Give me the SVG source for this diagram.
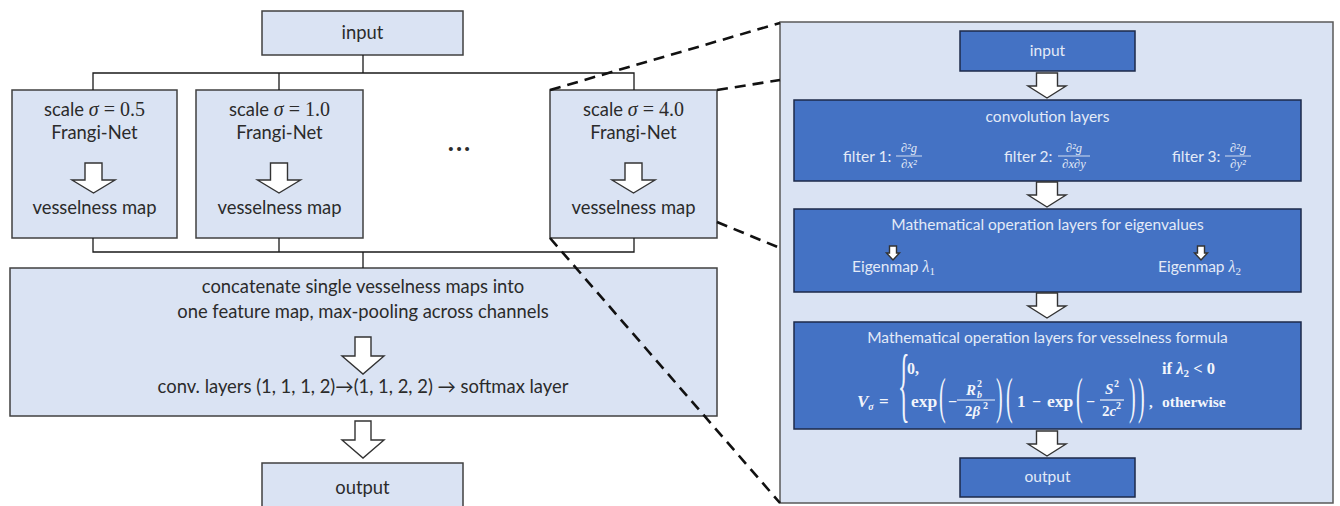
<svg xmlns="http://www.w3.org/2000/svg" width="1340" height="506" viewBox="0 0 1340 506">
<style>
.lb{fill:#dae3f3;stroke:#404040;stroke-width:1.5}
.db{fill:#4472c4;stroke:#1c2a4a;stroke-width:1.5}
.pn{fill:#dae3f3;stroke:#595959;stroke-width:1.5}
.ln{fill:none;stroke:#1a1a1a;stroke-width:1.3}
.dash{fill:none;stroke:#111;stroke-width:2.6;stroke-dasharray:11 7}
.ar{fill:#fff;stroke:#333;stroke-width:1.4}
.t{font-family:Lato,"Open Sans","Liberation Sans",sans-serif;font-size:18.4px;fill:#2b2b2b;text-anchor:middle}
.m{font-family:"Liberation Serif","DejaVu Serif",serif;font-size:20px}
.w{font-family:Lato,"Open Sans","Liberation Sans",sans-serif;font-size:15.5px;fill:#e3eaf7;text-anchor:middle}
.ws{text-anchor:start}
.wm{font-family:"Liberation Serif","DejaVu Serif",serif;font-style:italic;font-size:16px}
.f{font-family:"Liberation Serif","DejaVu Serif",serif;font-weight:bold;fill:#f2f5fb}
.fi{font-style:italic}
.fn{font-weight:normal}
.fr{font-family:"Liberation Serif","DejaVu Serif",serif;font-style:italic;fill:#e3eaf7;font-size:12.5px;text-anchor:middle}
.bar{stroke:#e3eaf7;stroke-width:0.9}
.barb{stroke:#f2f5fb;stroke-width:1.2}
</style>
<defs>
<path id="arL" d="M-8.5,0 H8.5 V17 H21.5 L0,30 L-21.5,17 H-8.5 Z"/>
<path id="arC" d="M-8,0 H8 V19 H21 L0,37 L-21,19 H-8 Z"/>
<path id="arR" d="M-10.5,0 H10.5 V13 H19 L0,25 L-19,13 H-10.5 Z"/>
<path id="arS" d="M-3.5,0 H3.5 V7 H6.5 L0,14 L-6.5,7 H-3.5 Z"/>
</defs>

<g id="input">
<rect class="lb" x="262" y="11" width="201" height="44"/>
<text class="t" x="362.5" y="39">input</text>
</g>

<g id="frangi-0-5">
<rect class="lb" x="12" y="90" width="165" height="148"/>
<text class="t" x="94.5" y="116">scale <tspan class="m" font-style="italic">σ</tspan><tspan class="m"> = 0.5</tspan></text>
<text class="t" x="94.5" y="139">Frangi-Net</text>
<use href="#arL" class="ar" x="93.5" y="163"/>
<text class="t" x="94.5" y="214">vesselness map</text>
</g>

<g id="frangi-1-0">
<rect class="lb" x="196" y="90" width="167" height="148"/>
<text class="t" x="279.5" y="116">scale <tspan class="m" font-style="italic">σ</tspan><tspan class="m"> = 1.0</tspan></text>
<text class="t" x="279.5" y="139">Frangi-Net</text>
<use href="#arL" class="ar" x="279" y="163"/>
<text class="t" x="279.5" y="214">vesselness map</text>
</g>

<g id="ellipsis">
<text class="t" x="460" y="151" style="font-size:26px;font-weight:bold;letter-spacing:2px">...</text>
</g>

<g id="frangi-4-0">
<rect class="lb" x="550" y="90" width="167" height="148"/>
<text class="t" x="633.5" y="116">scale <tspan class="m" font-style="italic">σ</tspan><tspan class="m"> = 4.0</tspan></text>
<text class="t" x="633.5" y="139">Frangi-Net</text>
<use href="#arL" class="ar" x="633.5" y="163"/>
<text class="t" x="633.5" y="214">vesselness map</text>
</g>

<g id="concatenate">
<rect class="lb" x="10" y="268" width="707" height="148"/>
<text class="t" x="363" y="293">concatenate single vesselness maps into</text>
<text class="t" x="363" y="318">one feature map, max-pooling across channels</text>
<use href="#arC" class="ar" x="363" y="337"/>
<text class="t" x="363" y="393">conv. layers (1, 1, 1, 2)→(1, 1, 2, 2) → softmax layer</text>
</g>

<g id="arrow-out">
<use href="#arC" class="ar" x="363" y="421"/>
</g>

<g id="output">
<rect class="lb" x="262" y="463" width="201" height="50"/>
<text class="t" x="362.5" y="494">output</text>
</g>

<g id="frangi-net-detail">
<rect class="pn" x="780" y="22" width="553" height="481"/>
</g>

<g id="fn-input">
<rect class="db" x="960" y="31" width="175" height="40"/>
<text class="w" x="1047.5" y="56">input</text>
</g>
<use href="#arR" class="ar" x="1047" y="73"/>

<g id="fn-conv">
<rect class="db" x="794" y="100" width="507" height="81"/>
<text class="w" x="1047.5" y="122">convolution layers</text>
<text class="w ws" x="843" y="162">filter 1:</text>
<text class="fr" x="909" y="152">∂²<tspan>g</tspan></text>
<line class="bar" x1="896" y1="156" x2="922" y2="156"/>
<text class="fr" x="909" y="168">∂<tspan>x</tspan>²</text>
<text class="w ws" x="1004" y="162">filter 2:</text>
<text class="fr" x="1074" y="152">∂²<tspan>g</tspan></text>
<line class="bar" x1="1058" y1="156" x2="1090" y2="156"/>
<text class="fr" x="1074" y="168">∂<tspan>x</tspan>∂<tspan>y</tspan></text>
<text class="w ws" x="1172" y="162">filter 3:</text>
<text class="fr" x="1238" y="152">∂²<tspan>g</tspan></text>
<line class="bar" x1="1225" y1="156" x2="1251" y2="156"/>
<text class="fr" x="1238" y="168">∂<tspan>y</tspan>²</text>
</g>
<use href="#arR" class="ar" x="1047" y="182"/>

<g id="fn-eigen">
<rect class="db" x="794" y="209" width="507" height="83"/>
<text class="w" x="1047.5" y="230">Mathematical operation layers for eigenvalues</text>
<use href="#arS" class="ar" x="893" y="246"/>
<text class="w ws" x="852" y="272">Eigenmap <tspan class="wm">λ</tspan><tspan class="wm" style="font-size:11px;font-style:normal" dy="3">1</tspan></text>
<use href="#arS" class="ar" x="1201" y="246"/>
<text class="w ws" x="1158" y="272">Eigenmap <tspan class="wm">λ</tspan><tspan class="wm" style="font-size:11px;font-style:normal" dy="3">2</tspan></text>
</g>
<use href="#arR" class="ar" x="1047" y="293"/>

<g id="fn-vesselness">
<rect class="db" x="794" y="322" width="507" height="107"/>
<text class="w" x="1047.5" y="343">Mathematical operation layers for vesselness formula</text>
<text class="f fi" x="857" y="407" style="font-size:17px">V<tspan style="font-size:10px" dy="3">σ</tspan></text>
<text class="f" x="879" y="407" style="font-size:17px">=</text>
<text class="f fn" transform="translate(898,412) scale(1,3.4)" style="font-size:24px">{</text>
<text class="f" x="907" y="374" style="font-size:16px">0,</text>
<text class="f" x="911" y="407" style="font-size:17.5px">exp</text>
<text class="f fn" transform="translate(939,413) scale(1,2.5)" style="font-size:20px">(</text>
<text class="f" x="948" y="407" style="font-size:16px">−</text>
<text class="f fi" x="966" y="395" style="font-size:15px">R</text>
<text class="f" x="977" y="387" style="font-size:10px">2</text>
<text class="f fi" x="977" y="398" style="font-size:10px">b</text>
<line class="barb" x1="957" y1="400" x2="995" y2="400"/>
<text class="f" x="965" y="416" style="font-size:15px">2<tspan class="fi">β</tspan></text>
<text class="f" x="983" y="409" style="font-size:10px">2</text>
<text class="f fn" transform="translate(996,413) scale(1,2.5)" style="font-size:20px">)</text>
<text class="f fn" transform="translate(1006,413) scale(1,2.5)" style="font-size:20px">(</text>
<text class="f" x="1017" y="407" style="font-size:17px">1</text>
<text class="f" x="1032" y="407" style="font-size:16px">−</text>
<text class="f" x="1047" y="407" style="font-size:17.5px">exp</text>
<text class="f fn" transform="translate(1076,413) scale(1,2.5)" style="font-size:20px">(</text>
<text class="f" x="1086" y="407" style="font-size:16px">−</text>
<text class="f fi" x="1105" y="394" style="font-size:15px">S</text>
<text class="f" x="1114" y="387" style="font-size:10px">2</text>
<line class="barb" x1="1100" y1="400" x2="1124" y2="400"/>
<text class="f" x="1102" y="416" style="font-size:15px">2<tspan class="fi">c</tspan></text>
<text class="f" x="1116" y="409" style="font-size:10px">2</text>
<text class="f fn" transform="translate(1129,413) scale(1,2.5)" style="font-size:20px">)</text>
<text class="f fn" transform="translate(1138,413) scale(1,2.5)" style="font-size:20px">)</text>
<text class="f" x="1149" y="407" style="font-size:15px">,</text>
<text class="f" x="1162" y="374" style="font-size:16.5px">if <tspan class="fi">λ</tspan><tspan style="font-size:11px" dy="3">2</tspan><tspan dy="-3"> &lt; 0</tspan></text>
<text class="f" x="1162" y="407" style="font-size:15.5px">otherwise</text>
</g>
<use href="#arR" class="ar" x="1047" y="431"/>

<g id="fn-output">
<rect class="db" x="960" y="458" width="175" height="39"/>
<text class="w" x="1047.5" y="482">output</text>
</g>

<g id="connectors">
<path class="ln" d="M363,55 V73 M93,90 V73 H634 V90 M279,73 V90"/>
<path class="ln" d="M93,238 V252 H634 V238 M279,238 V252 M363,252 V268"/>
<path class="dash" d="M550,90 L780,23"/>
<path class="dash" d="M717,90 L780,80"/>
<path class="dash" d="M717,222 L780,248"/>
<path class="dash" d="M550,238 L780,503"/>
</g>
</svg>
